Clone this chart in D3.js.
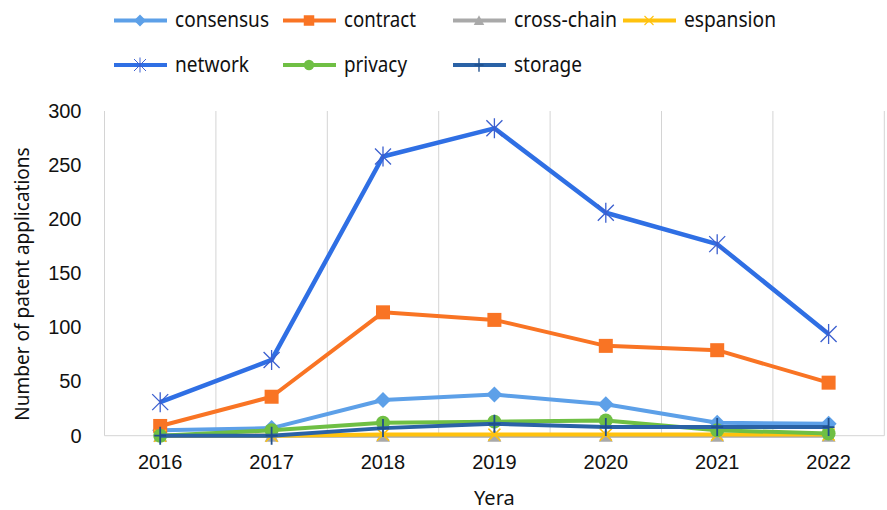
<!DOCTYPE html>
<html>
<head>
<meta charset="utf-8">
<script src="https://cdn.jsdelivr.net/npm/d3@7"></script>
<style>
  body { margin: 0; background: #fff; }
  svg { font-family: "Noto Sans", "Open Sans", sans-serif; }
</style>
</head>
<body>
<svg id="chart" width="887" height="510"></svg>
<script>
// chart values
const years = ["2016", "2017", "2018", "2019", "2020", "2021", "2022"];
const consensus = [5, 7, 33, 38, 29, 12, 11];
const contract = [9, 36, 114, 107, 83, 79, 49];
const crossChain = [0, 0, 0, 0, 0, 0, 0];
const espansion = [0, 0, 1, 1, 1, 1, 1];
const network = [31, 70, 258, 284, 206, 177, 94];
const privacy = [0, 5, 12, 13, 14, 5, 2];
const storage = [0, 0, 7, 11, 8, 8, 8];
const yTicks = [0, 50, 100, 150, 200, 250, 300];

const series = [
  { name: "consensus", values: consensus, color: "#5da0e8", marker: "diamond" },
  { name: "contract", values: contract, color: "#f97424", marker: "square" },
  { name: "cross-chain", values: crossChain, color: "#a9a9a9", marker: "triangle" },
  { name: "espansion", values: espansion, color: "#ffc20e", marker: "times" },
  { name: "network", values: network, color: "#2f6fe4", marker: "asterisk" },
  { name: "privacy", values: privacy, color: "#6fbf44", marker: "circle" },
  { name: "storage", values: storage, color: "#2a62a6", marker: "plus" }
];

const svg = d3.select("#chart");
const plotLeft = 104.5, plotRight = 884.3, plotTop = 111, plotBottom = 435.7;

const x = d3.scaleBand().domain(years).range([plotLeft, plotRight]).padding(0);
const y = d3.scaleLinear().domain([0, 300]).range([plotBottom, plotTop]);
const cx = d => x(d) + x.bandwidth() / 2;

//vertical grid lines at category edges
const edges = years.map(d => x(d)).concat([plotRight]);
svg.append("g")
  .selectAll("line")
  .data(edges)
  .join("line")
  .attr("x1", d => d).attr("x2", d => d)
  .attr("y1", plotTop).attr("y2", plotBottom)
  .attr("stroke", "#d4d4d4")
  .attr("stroke-width", 1);

svg.append("line")
  .attr("x1", plotLeft).attr("x2", plotRight)
  .attr("y1", plotBottom).attr("y2", plotBottom)
  .attr("stroke", "#d4d4d4");

//axes
const xAxis = d3.axisBottom(x).tickSize(0).tickPadding(19);
svg.append("g")
  .attr("transform", `translate(0, ${plotBottom})`)
  .call(xAxis)
  .call(g => g.select(".domain").remove())
  .selectAll("text")
  .style("font-size", "20px")
  .attr("fill", "#111");

const yAxis = d3.axisLeft(y).tickValues(yTicks).tickSize(0).tickPadding(23);
svg.append("g")
  .attr("transform", `translate(${plotLeft}, 0)`)
  .call(yAxis)
  .call(g => g.select(".domain").remove())
  .selectAll("text")
  .style("font-size", "20px")
  .attr("fill", "#111");

svg.append("text")
  .attr("x", (plotLeft + plotRight) / 2)
  .attr("y", 505)
  .attr("text-anchor", "middle")
  .style("font-size", "20px")
  .attr("fill", "#111")
  .text("Yera");

svg.append("text")
  .attr("transform", "translate(29, 284) rotate(-90)")
  .attr("text-anchor", "middle")
  .style("font-size", "19px")
  .attr("fill", "#111")
  .text("Number of patent applications");

//marker drawing
const drawMarker = function(g, type, color) {
  switch (type) {
    case "diamond":
      g.append("path").attr("d", "M0,-8L8,0L0,8L-8,0Z").attr("fill", color);
      break;
    case "square":
      g.append("rect").attr("x", -7).attr("y", -7).attr("width", 14).attr("height", 14).attr("fill", color);
      break;
    case "triangle":
      g.append("path").attr("d", "M0,-7L7,6L-7,6Z").attr("fill", color);
      break;
    case "circle":
      g.append("circle").attr("r", 7).attr("fill", color);
      break;
    case "times":
      g.append("path").attr("d", "M-6,-6L6,6M6,-6L-6,6").attr("stroke", color).attr("stroke-width", 1.5).attr("fill", "none");
      break;
    case "asterisk":
      g.append("path").attr("d", "M0,-10L0,10M-8,-8L8,8M8,-8L-8,8").attr("stroke", "#3b5fcf").attr("stroke-width", 1.3).attr("fill", "none");
      break;
    case "plus":
      g.append("path").attr("d", "M0,-9L0,9M-6,0L6,0").attr("stroke", "#1f4f8c").attr("stroke-width", 1.8).attr("fill", "none");
      break;
  }
};

//lines and markers
const line = d3.line().x((d, i) => cx(years[i])).y(d => y(d));
series.forEach(s => {
  const g = svg.append("g");
  g.append("path")
    .datum(s.values)
    .attr("fill", "none")
    .attr("stroke", s.color)
    .attr("stroke-width", s.name === "network" ? 4.5 : 4)
    .attr("stroke-linejoin", "round")
    .attr("d", line);
  s.values.forEach((v, i) => {
    const m = g.append("g").attr("transform", `translate(${cx(years[i])}, ${y(v)})`);
    drawMarker(m, s.marker, s.color);
  });
});

//legend (text is narrow in the original, so squeeze it)
const legendPos = [
  [114, 20.5], [283, 20.5], [453, 20.5], [623, 20.5],
  [114, 65], [283, 65], [453, 65]
];
const legendWidths = [94, 72, 103, 92, 74, 63, 68];
series.forEach((s, i) => {
  const [lx, ly] = legendPos[i];
  const g = svg.append("g").attr("transform", `translate(${lx}, ${ly})`);
  g.append("line")
    .attr("x1", 0).attr("x2", 53)
    .attr("y1", 0).attr("y2", 0)
    .attr("stroke", s.color)
    .attr("stroke-width", 4);
  const m = g.append("g").attr("transform", "translate(26, 0) scale(0.75)");
  drawMarker(m, s.marker, s.color);
  g.append("text")
    .attr("x", 61)
    .attr("y", 6.5)
    .style("font-size", "22px")
    .attr("fill", "#111")
    .attr("textLength", legendWidths[i])
    .attr("lengthAdjust", "spacingAndGlyphs")
    .text(s.name);
});
</script>
</body>
</html>
